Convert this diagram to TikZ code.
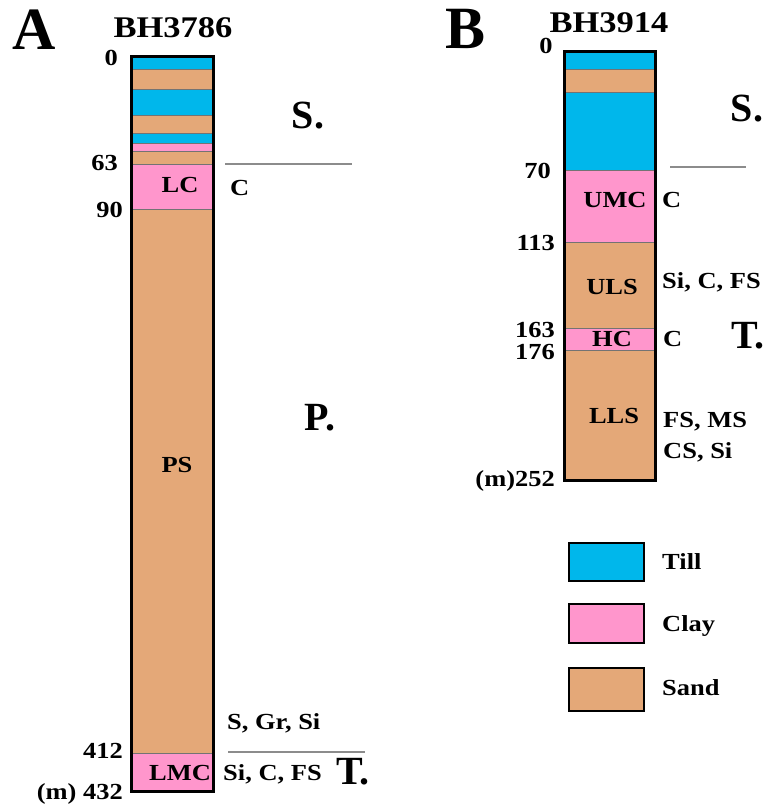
\documentclass[tikz,border=0pt]{standalone}
\usepackage{fontspec}
\setmainfont{Liberation Serif}
\definecolor{till}{RGB}{0,183,235}
\definecolor{clay}{RGB}{255,150,204}
\definecolor{sand}{RGB}{228,168,120}
\begin{document}
\begin{tikzpicture}[x=1pt,y=-1pt,
  lbl/.style={font=\bfseries\fontsize{23}{23}\selectfont, inner sep=0pt, text height=15.5pt, text depth=0pt, xscale=1.15, transform shape},
  ttl/.style={font=\bfseries\fontsize{30}{30}\selectfont, inner sep=0pt, text height=20pt, text depth=0pt, xscale=1.15, transform shape},
  big/.style={font=\bfseries\fontsize{40}{40}\selectfont, inner sep=0pt, text height=26.5pt, text depth=0pt},
  huge/.style={font=\bfseries\fontsize{60}{60}\selectfont, inner sep=0pt, text height=40pt, text depth=0pt},
  layer/.style={draw=black!55, line width=0.7pt},
  col/.style={draw=black, line width=3pt},
  legbox/.style={draw=black, line width=2.5pt},
  sep/.style={draw=black!45, line width=1.8pt}]
\useasboundingbox (0,0) rectangle (766,805);

% ---------------- Column A ----------------
\fill[till, layer] (131.5,56.5) rectangle (213.5,69.5);
\fill[sand, layer] (131.5,69.5) rectangle (213.5,89);
\fill[till, layer] (131.5,89) rectangle (213.5,115);
\fill[sand, layer] (131.5,115) rectangle (213.5,133);
\fill[till, layer] (131.5,133) rectangle (213.5,143.5);
\fill[clay, layer] (131.5,143.5) rectangle (213.5,151);
\fill[sand, layer] (131.5,151) rectangle (213.5,164);
\fill[clay, layer] (131.5,164) rectangle (213.5,209);
\fill[sand, layer] (131.5,209) rectangle (213.5,753);
\fill[clay, layer] (131.5,753) rectangle (213.5,791.5);
\draw[col] (131.5,56.5) rectangle (213.5,791.5);

\node[huge, anchor=west] (labA) at (12,30) {A};
\node[ttl] (bhA) at (173,28) {BH3786};
\node[lbl, anchor=east] (a0) at (118,58) {0};
\node[lbl, anchor=east] (a63) at (118,163) {63};
\node[lbl, anchor=east] (a90) at (123,210) {90};
\node[lbl, anchor=east] (a412) at (123,751) {412};
\node[lbl, anchor=east] (a432) at (123,792) {(m) 432};
\node[big] (aS) at (308,115) {S.};
\coordinate (aL1a) at (225,164);
\coordinate (aL1b) at (352,164);
\draw[sep] (aL1a) -- (aL1b);
\node[lbl] (aLC) at (180,185) {LC};
\node[lbl, anchor=west] (aC) at (230,188) {C};
\node[lbl] (aPS) at (177,465) {PS};
\node[big] (aP) at (320,417) {P.};
\node[lbl, anchor=west] (aSGr) at (227,722) {S, Gr, Si};
\coordinate (aL2a) at (228,752);
\coordinate (aL2b) at (365,752);
\draw[sep] (aL2a) -- (aL2b);
\node[lbl] (aLMC) at (180,773) {LMC};
\node[lbl, anchor=west] (aSiC) at (223,773) {Si, C, FS};
\node[big, anchor=west] (aT) at (336,771) {T.};

% ---------------- Column B ----------------
\fill[till, layer] (564.5,51.5) rectangle (655.5,69);
\fill[sand, layer] (564.5,69) rectangle (655.5,92);
\fill[till, layer] (564.5,92) rectangle (655.5,170);
\fill[clay, layer] (564.5,170) rectangle (655.5,242);
\fill[sand, layer] (564.5,242) rectangle (655.5,328);
\fill[clay, layer] (564.5,328) rectangle (655.5,350);
\fill[sand, layer] (564.5,350) rectangle (655.5,480.5);
\draw[col] (564.5,51.5) rectangle (655.5,480.5);

\node[huge, anchor=west] (labB) at (445,29) {B};
\node[ttl] (bhB) at (609,23) {BH3914};
\node[lbl] (b0) at (546,46) {0};
\node[lbl, anchor=east] (b70) at (551,171) {70};
\node[lbl, anchor=east] (b113) at (555,243) {113};
\node[lbl, anchor=east] (b163) at (555,330) {163};
\node[lbl, anchor=east] (b176) at (555,352) {176};
\node[lbl, anchor=east] (b252) at (555,479) {(m)252};
\node[big] (bS) at (747,108) {S.};
\coordinate (bL1a) at (670,167);
\coordinate (bL1b) at (746,167);
\draw[sep] (bL1a) -- (bL1b);
\node[lbl] (bUMC) at (615,200) {UMC};
\node[lbl, anchor=west] (bC1) at (662,200) {C};
\node[lbl] (bULS) at (612,287) {ULS};
\node[lbl, anchor=west] (bSiC) at (662,281) {Si, C, FS};
\node[lbl] (bHC) at (612,339) {HC};
\node[lbl, anchor=west] (bC2) at (663,339) {C};
\node[big, anchor=west] (bT) at (731,335) {T.};
\node[lbl] (bLLS) at (614,416) {LLS};
\node[lbl, anchor=west] (bFS) at (663,420) {FS, MS};
\node[lbl, anchor=west] (bCS) at (663,451) {CS, Si};

% ---------------- Legend ----------------
\filldraw[fill=till, legbox] (569,543) rectangle (644,581);
\filldraw[fill=clay, legbox] (569,604) rectangle (644,643);
\filldraw[fill=sand, legbox] (569,668) rectangle (644,711);
\node[lbl, anchor=west] (lTill) at (662,562) {Till};
\node[lbl, anchor=west] (lClay) at (662,624) {Clay};
\node[lbl, anchor=west] (lSand) at (662,688) {Sand};
\end{tikzpicture}
\end{document}
